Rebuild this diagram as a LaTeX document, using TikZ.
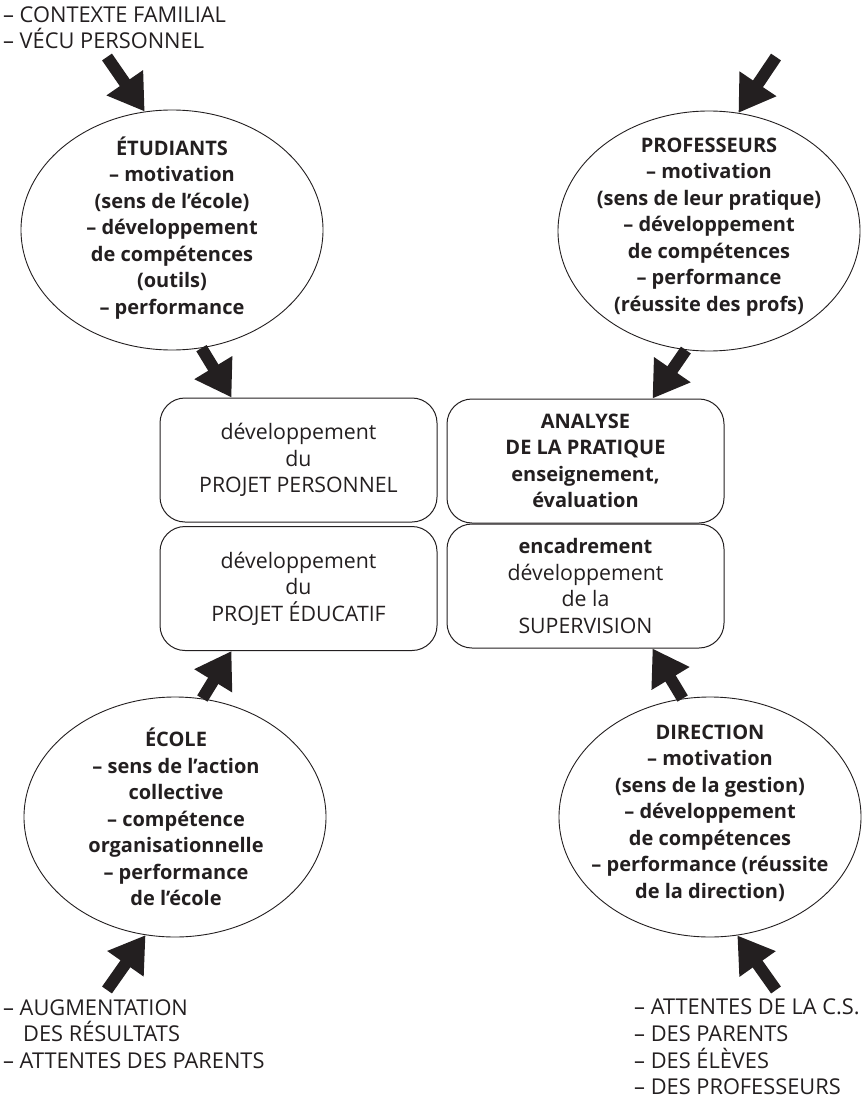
\documentclass[tikz,border=0pt]{standalone}
\usepackage{fontspec}
\setmainfont{Open Sans}
\usetikzlibrary{arrows.meta,shapes.geometric}
\definecolor{ink}{HTML}{231F20}
\tikzset{
  txt/.style={font=\fontsize{21.8}{26.5}\selectfont, text=ink, inner sep=0pt},
  btxt/.style={txt, font=\fontsize{20}{26.5}\selectfont\bfseries, align=center},
  ell/.style={draw=ink, line width=0.9pt, ellipse, inner sep=0pt,
    minimum width=302pt, minimum height=240pt},
  panel/.style={draw=ink, line width=1pt, rounded corners=25pt,
    minimum width=277pt, minimum height=124pt, align=center,
    font=\fontsize{21.3}{26.5}\selectfont, text=ink, inner sep=0pt},
  boldline/.style={font=\fontsize{20}{26.5}\selectfont\bfseries},
  fat/.style={draw=ink, line width=12pt,
    -{Triangle[length=35pt,width=42pt]}, color=ink},
}
\begin{document}
\begin{tikzpicture}[x=1pt,y=-1pt]
\useasboundingbox (0,0) rectangle (863,1099);

% the four actors
\node[ell] (etu) at (172,230) {};
\node[ell] (prof) at (709,231) {};
\node[ell] (ecole) at (175,817) {};
\node[ell] (dir) at (710,817) {};

\node[btxt] at (172,228) {ÉTUDIANTS\\– motivation\\(sens de l’école)\\– développement\\de compétences\\(outils)\\– performance};
\node[btxt] at (709,227) {PROFESSEURS\\– motivation\\(sens de leur pratique)\\– développement\\de compétences\\– performance\\(réussite des profs)};
\node[btxt] at (176,817) {ÉCOLE\\– sens de l’action\\collective\\– compétence\\organisationnelle\\– performance\\de l’école};
\node[btxt] at (710,813) {DIRECTION\\– motivation\\(sens de la gestion)\\– développement\\de compétences\\– performance (réussite\\de la direction)};

% the four central panels
\node[panel] (pp) at (298.5,460) {développement\\du\\PROJET PERSONNEL};
\node[panel, boldline] (ana) at (585.5,461) {ANALYSE\\DE LA PRATIQUE\\enseignement,\\évaluation};
\node[panel] (pe) at (298.5,588.5) {développement\\du\\PROJET ÉDUCATIF};
\node[panel] (enc) at (585.5,586) {{\fontsize{20}{26.5}\selectfont\bfseries encadrement}\\développement\\de la\\SUPERVISION};

% outside influences
\node[txt, align=left, anchor=north west] (ctx) at (3,6) {– CONTEXTE FAMILIAL\\– VÉCU PERSONNEL};
\node[txt, align=left, anchor=north west] (res) at (3,999) {– AUGMENTATION\\\hspace*{20pt}DES RÉSULTATS\\– ATTENTES DES PARENTS};
\node[txt, align=left, anchor=north west] (att) at (634,999) {– ATTENTES DE LA C.S.\\– DES PARENTS\\– DES ÉLÈVES\\– DES PROFESSEURS};

\coordinate (inTL) at (107,57);
\coordinate (inTR) at (776,57);
\coordinate (inBL) at (107,990);
\coordinate (inBR) at (776,990);

% arrows
\draw[fat] (inTL) -- (etu.103);
\draw[fat] (inTR) -- (prof.76);
\draw[fat] (inBL) -- (ecole.-104);
\draw[fat] (inBR) -- (dir.-77);
\draw[fat] (etu.-76) -- ([xshift=72pt]pp.north west);
\draw[fat] (prof.-101) -- ([xshift=-72pt]ana.north east);
\draw[fat] (ecole.77) -- ([xshift=72pt]pe.south west);
\draw[fat] (dir.103) -- ([xshift=-72pt]enc.south east);
\end{tikzpicture}
\end{document}
